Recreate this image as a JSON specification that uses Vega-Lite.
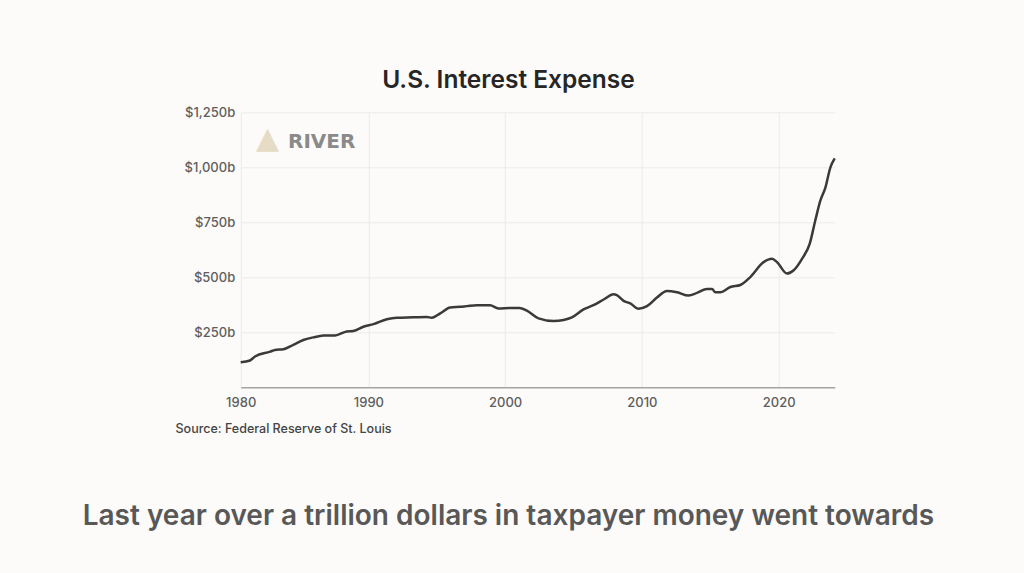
{
  "$schema": "https://vega.github.io/schema/vega-lite/v6.json",
  "width": 594,
  "height": 275,
  "autosize": {"type": "none"},
  "padding": {"left": 240.7, "top": 112.3, "right": 189.3, "bottom": 185.7},
  "background": "#fcfbf9",
  "title": {
    "text": "U.S. Interest Expense",
    "frame": "bounds",
    "anchor": "middle",
    "font": "Inter",
    "fontSize": 24.5,
    "fontWeight": 600,
    "color": "#262626",
    "offset": 13
  },
  "config": {
    "view": {"stroke": null},
    "axis": {"labelFont": "Inter", "labelFontSize": 13, "labelFontWeight": 500, "labelColor": "#5e5e5e", "gridColor": "#ebebeb", "gridWidth": 1, "ticks": false}
  },
  "layer": [
    {
      "data": {
        "values": [
          {"year": 1980.66, "value": 114},
          {"year": 1981.34, "value": 122},
          {"year": 1981.71, "value": 140},
          {"year": 1982.81, "value": 162},
          {"year": 1983.17, "value": 170},
          {"year": 1983.78, "value": 173},
          {"year": 1984.51, "value": 193},
          {"year": 1985.24, "value": 215},
          {"year": 1985.98, "value": 227},
          {"year": 1986.71, "value": 235},
          {"year": 1987.56, "value": 236},
          {"year": 1988.42, "value": 254},
          {"year": 1988.9, "value": 256},
          {"year": 1989.63, "value": 275},
          {"year": 1990.37, "value": 287},
          {"year": 1991.35, "value": 309},
          {"year": 1992.08, "value": 316},
          {"year": 1993.29, "value": 318},
          {"year": 1994.27, "value": 320},
          {"year": 1994.64, "value": 316},
          {"year": 1995.25, "value": 336},
          {"year": 1995.98, "value": 363},
          {"year": 1996.71, "value": 366},
          {"year": 1997.2, "value": 369},
          {"year": 1997.93, "value": 373},
          {"year": 1998.9, "value": 373},
          {"year": 1999.51, "value": 358},
          {"year": 2000.37, "value": 361},
          {"year": 2001.05, "value": 361},
          {"year": 2001.59, "value": 348},
          {"year": 2002.44, "value": 313},
          {"year": 2003.54, "value": 301},
          {"year": 2004.27, "value": 306},
          {"year": 2004.88, "value": 318},
          {"year": 2005.73, "value": 354},
          {"year": 2006.46, "value": 373},
          {"year": 2007.2, "value": 399},
          {"year": 2007.93, "value": 423},
          {"year": 2008.17, "value": 419},
          {"year": 2008.66, "value": 393},
          {"year": 2009.15, "value": 381},
          {"year": 2009.76, "value": 357},
          {"year": 2010.37, "value": 369},
          {"year": 2011.1, "value": 408},
          {"year": 2011.83, "value": 438},
          {"year": 2012.57, "value": 432},
          {"year": 2013.41, "value": 417},
          {"year": 2014.03, "value": 429},
          {"year": 2014.76, "value": 447},
          {"year": 2015.13, "value": 447},
          {"year": 2015.37, "value": 432},
          {"year": 2015.74, "value": 432},
          {"year": 2016.47, "value": 456},
          {"year": 2017.2, "value": 465},
          {"year": 2017.93, "value": 501},
          {"year": 2018.9, "value": 569},
          {"year": 2019.52, "value": 584},
          {"year": 2019.88, "value": 569},
          {"year": 2020.61, "value": 517},
          {"year": 2021.1, "value": 532},
          {"year": 2021.71, "value": 584},
          {"year": 2022.27, "value": 652},
          {"year": 2022.68, "value": 758},
          {"year": 2023.05, "value": 848},
          {"year": 2023.42, "value": 908},
          {"year": 2023.78, "value": 999},
          {"year": 2024.1, "value": 1041}
        ]
      },
      "mark": {"type": "line", "interpolate": "monotone", "color": "#3a3a3a", "strokeWidth": 2.5},
      "encoding": {
        "x": {
          "field": "year",
          "type": "quantitative",
          "scale": {"domain": [1980.66, 2024.1], "nice": false, "zero": false},
          "axis": {
            "values": [1980.66, 1990, 2000, 2010, 2020],
            "format": "d",
            "labelExpr": "datum.value < 1985 ? '1980' : datum.label",
            "labelFlush": false,
            "domainColor": "#a3a3a3",
            "domainWidth": 1.5,
            "labelPadding": 9,
            "title": "Source: Federal Reserve of St. Louis",
            "titleFont": "Inter",
            "titleFontSize": 12.5,
            "titleFontWeight": 500,
            "titleColor": "#444444",
            "titleAlign": "left",
            "titleAnchor": "start",
            "titleBaseline": "alphabetic",
            "titleX": -65.7,
            "titleY": 45.4
          }
        },
        "y": {
          "field": "value",
          "type": "quantitative",
          "scale": {"domain": [0, 1250], "nice": false},
          "axis": {
            "values": [250, 500, 750, 1000, 1250],
            "labelExpr": "'$' + format(datum.value, ',') + 'b'",
            "domain": false,
            "labelPadding": 6,
            "title": null
          }
        }
      }
    },
    {
      "data": {"values": [{"logo": "▲"}]},
      "mark": {"type": "text", "font": "DejaVu Sans", "fontSize": 30, "color": "#e6dcc6", "align": "center", "baseline": "middle"},
      "encoding": {
        "x": {"datum": 1982.62, "type": "quantitative"},
        "y": {"datum": 1128, "type": "quantitative"},
        "text": {"field": "logo"}
      }
    },
    {
      "data": {"values": [{"brand": "RIVER"}]},
      "mark": {"type": "text", "font": "DejaVu Sans", "fontSize": 20, "fontWeight": 700, "color": "#8a8a8a", "align": "left", "baseline": "alphabetic"},
      "encoding": {
        "x": {"datum": 1984.12, "type": "quantitative"},
        "y": {"datum": 1090, "type": "quantitative"},
        "text": {"field": "brand"}
      }
    },
    {
      "data": {"values": [{"caption": "Last year over a trillion dollars in taxpayer money went towards"}]},
      "mark": {"type": "text", "font": "Inter", "fontSize": 28, "fontWeight": 600, "color": "#585858", "align": "center", "baseline": "alphabetic", "clip": false},
      "encoding": {
        "x": {"datum": 2000.24, "type": "quantitative"},
        "y": {"datum": -626, "type": "quantitative"},
        "text": {"field": "caption"}
      }
    }
  ]
}
